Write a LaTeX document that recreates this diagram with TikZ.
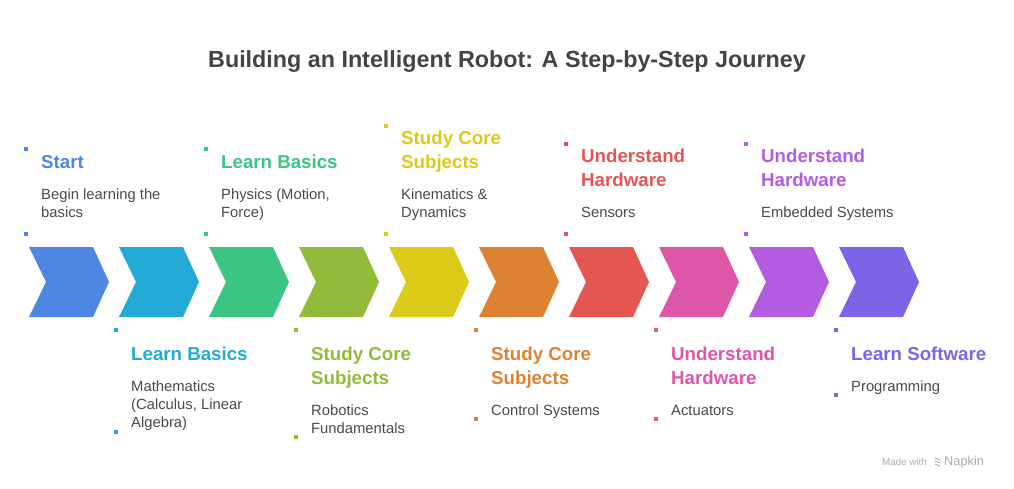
\documentclass[tikz,border=0pt]{standalone}
\usepackage{fontspec}
\setmainfont{Liberation Sans}
\usetikzlibrary{calc}
\definecolor{cA}{HTML}{4E86E4}
\definecolor{cB}{HTML}{22A9D6}
\definecolor{cC}{HTML}{3CC483}
\definecolor{cD}{HTML}{93BB3A}
\definecolor{cE}{HTML}{DCCA19}
\definecolor{cF}{HTML}{DD8232}
\definecolor{cG}{HTML}{E35651}
\definecolor{cH}{HTML}{DD56A8}
\definecolor{cI}{HTML}{B45CE0}
\definecolor{cJ}{HTML}{7D64E6}
\definecolor{headgrey}{HTML}{444444}
\definecolor{descgrey}{HTML}{4A4A4A}
\definecolor{markgrey}{HTML}{ABABAB}
\begin{document}
\begin{tikzpicture}[x=1pt,y=-1pt,
  headline/.style={font=\fontsize{23.3}{27}\selectfont\bfseries, text=headgrey, inner sep=0pt},
  itemtitle/.style={font=\fontsize{18.7}{24}\selectfont\bfseries, align=left, inner sep=0pt, anchor=base west},
  itemdesc/.style={font=\fontsize{14.8}{18}\selectfont, text=descgrey, align=left, inner sep=0pt, anchor=base west},
  markdot/.style={minimum size=3.3pt, inner sep=0pt, draw=none},
  wmark/.style={font=\fontsize{9.8}{12}\selectfont, text=markgrey, inner sep=0pt}
]
\useasboundingbox (0,0) rectangle (1014,489);
\fill[white] (0,0) rectangle (1014,489);

\node[headline] (head) at (507,62) {Building an Intelligent Robot: A Step-by-Step Journey};

% chevrons
\foreach \i/\c in {0/cA,1/cB,2/cC,3/cD,4/cE,5/cF,6/cG,7/cH,8/cI,9/cJ}{
  \pgfmathsetmacro{\xx}{29+90*\i}
  \fill[\c] (\xx,247) -- ++(64,0) -- ++(16,35) -- ++(-16,35) -- ++(-64,0) -- ++(17,-35) -- cycle;
  \coordinate (chev\i) at (\xx+40,282);
}

% item macro: name, colour, dot x, top dot y, bottom dot y, title last-line centre y, title, desc last-line centre y, desc
\newcommand{\stepitem}[9]{
  \node[markdot, fill=#2] (#1dtop) at (#3,#4) {};
  \node[markdot, fill=#2] (#1dbot) at (#3,#5) {};
  \node[itemtitle, text=#2] (#1title) at (#3+15,#6+6.6) {#7};
  \node[itemdesc] (#1desc) at (#3+15,#8+5.4) {#9};
}

\stepitem{tA}{cA}{26}{149}{234}{162}{Start}{212}{Begin learning the\\basics}
\stepitem{bA}{cB}{116}{330}{432}{354}{Learn Basics}{422}{Mathematics\\(Calculus, Linear\\Algebra)}
\stepitem{tB}{cC}{206}{149}{234}{162}{Learn Basics}{212}{Physics (Motion,\\Force)}
\stepitem{bB}{cD}{296}{330}{437}{378}{Study Core\\Subjects}{428}{Robotics\\Fundamentals}
\stepitem{tC}{cE}{386}{126}{234}{162}{Study Core\\Subjects}{212}{Kinematics \&\\Dynamics}
\stepitem{bC}{cF}{476}{330}{419}{378}{Study Core\\Subjects}{410}{Control Systems}
\stepitem{tD}{cG}{566}{144}{234}{180}{Understand\\Hardware}{212}{Sensors}
\stepitem{bD}{cH}{656}{330}{419}{378}{Understand\\Hardware}{410}{Actuators}
\stepitem{tE}{cI}{746}{144}{234}{180}{Understand\\Hardware}{212}{Embedded Systems}
\stepitem{bE}{cJ}{836}{330}{395}{354}{Learn Software}{386}{Programming}

% watermark
\node[wmark, anchor=west] (made) at (882,462) {Made with};
\node[wmark, anchor=west, font=\fontsize{12.8}{14}\selectfont] (napkin) at (944,462) {Napkin};
\coordinate (logo) at (937.5,462);
\draw[markgrey, line width=0.9pt, line cap=round]
  ($(logo)+(-2.5,-4)$) -- ($(logo)+(2.5,-2)$)
  ($(logo)+(-2.5,-1)$) -- ($(logo)+(2.5,1)$)
  ($(logo)+(-2.5,2)$) -- ($(logo)+(2.5,4)$);
\end{tikzpicture}
\end{document}
